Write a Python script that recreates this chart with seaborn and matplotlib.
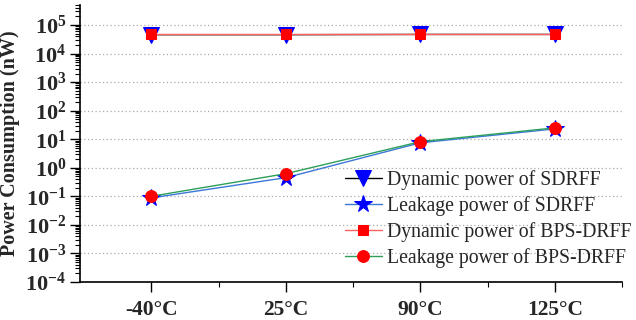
import numpy as np
import pandas as pd
import matplotlib
matplotlib.use("Agg")
import matplotlib.pyplot as plt
import seaborn as sns
from matplotlib.ticker import LogLocator, FixedLocator, NullFormatter

temps = ['-40°C', '25°C', '90°C', '125°C']
dyn_sdrff = [4.6e4, 4.6e4, 4.7e4, 4.7e4]
leak_sdrff = [0.088, 0.45, 7.5, 23]
dyn_bps = [4.9e4, 4.9e4, 4.9e4, 4.9e4]
leak_bps = [0.10, 0.62, 8.2, 25]

sns.set_style("white")
plt.rcParams['font.family'] = ['Liberation Serif', 'DejaVu Serif']
plt.rcParams['mathtext.fontset'] = 'custom'
plt.rcParams['mathtext.rm'] = 'Liberation Serif:bold'
plt.rcParams['mathtext.bf'] = 'Liberation Serif:bold'

fig = plt.figure(figsize=(6.36, 3.2), dpi=100)
ax = fig.add_axes([0.126, 0.119, 0.852, 0.865])

sns.lineplot(x=temps, y=dyn_sdrff, ax=ax, color='black', lw=1, marker='v', ms=12,
             markerfacecolor='blue', markeredgecolor='blue', label='Dynamic power of SDRFF')
sns.lineplot(x=temps, y=leak_sdrff, ax=ax, color='#3c78d8', lw=1, marker='*', ms=13,
             markerfacecolor='blue', markeredgecolor='blue', label='Leakage power of SDRFF')
sns.lineplot(x=temps, y=dyn_bps, ax=ax, color='#ff6060', lw=1, marker='s', ms=7.5,
             markerfacecolor='red', markeredgecolor='red', label='Dynamic power of BPS-DRFF')
sns.lineplot(x=temps, y=leak_bps, ax=ax, color='#2ca05a', lw=1, marker='o', ms=8.5,
             markerfacecolor='red', markeredgecolor='red', label='Leakage power of BPS-DRFF')

ax.set_yscale('log')
ax.set_ylim(1e-4, 5e5)
ax.set_xlim(-0.53, 3.5)

majors = [10.0 ** k for k in range(-4, 6)]
ax.yaxis.set_major_locator(FixedLocator(majors))
ax.set_yticklabels([r'$\mathbf{10^{%d}}$' % k for k in range(-4, 6)])
ax.yaxis.set_minor_locator(LogLocator(base=10, subs=np.arange(2, 10), numticks=20))
ax.yaxis.set_minor_formatter(NullFormatter())

ax.set_xticks(range(len(temps)))
ax.set_xticklabels(temps, fontweight='bold')
ax.set_xticks([0.5, 1.5, 2.5, 3.5], minor=True)

ax.tick_params(axis='both', which='major', direction='out', length=7, width=1,
               left=True, bottom=True, color='black')
ax.tick_params(axis='both', which='minor', direction='out', length=3.5, width=0.8,
               left=True, bottom=True, color='black')
ax.tick_params(axis='y', which='major', labelsize=16, pad=3)
ax.tick_params(axis='x', which='major', labelsize=15.5, pad=6)

for y in majors[1:]:
    ax.axhline(y, color='#aaaaaa', ls=(0, (1, 2)), lw=0.9, zorder=0)

for s in ['top', 'right']:
    ax.spines[s].set_visible(False)
for s in ['left', 'bottom']:
    ax.spines[s].set_color('black')
    ax.spines[s].set_linewidth(1.2)

ax.set_xlabel('')
ax.set_ylabel('Power Consumption (nW)', fontsize=14.5, fontweight='bold', labelpad=4)

ax.legend(loc='upper left', bbox_to_anchor=(0.542, 0.47), bbox_transform=fig.transFigure,
          frameon=False, fontsize=14.2, handlelength=1.9, handletextpad=0.25,
          labelspacing=0.32, borderpad=0, borderaxespad=0)

fig.savefig('out.png', dpi=100)
